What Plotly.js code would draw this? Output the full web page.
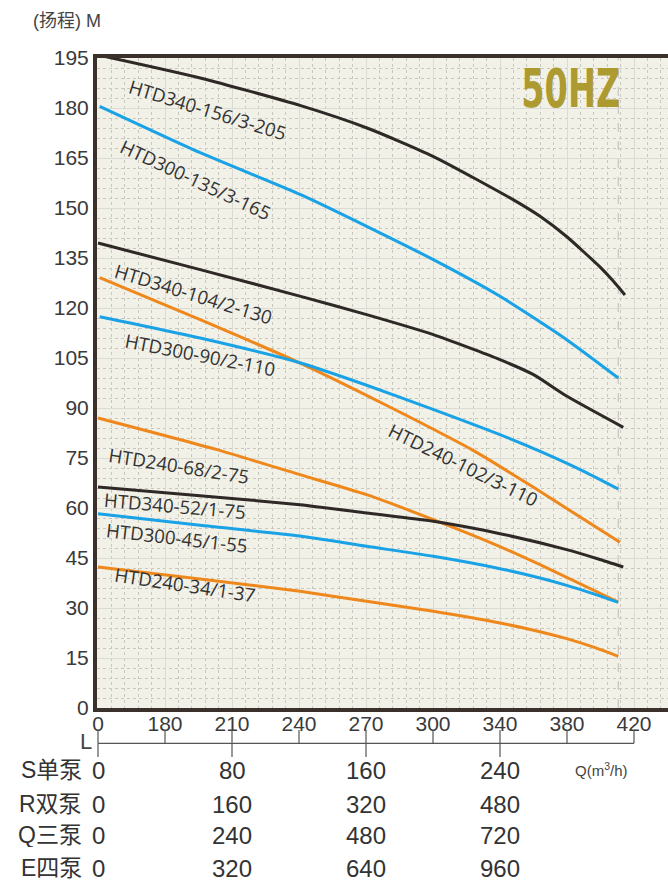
<!DOCTYPE html>
<html><head><meta charset="utf-8">
<script src="https://cdn.plot.ly/plotly-3.0.1.min.js"></script>
<style>html,body{margin:0;padding:0;background:#fff}#chart{width:668px;height:881px}</style>
</head><body><div id="chart"></div>
<script>
// ---- data: flow on the S单泵 scale (m3/h) and head (m) ----
const q340_156 = [1, 61, 121, 160.6, 200, 247.8, 263.9, 280.1, 290.7, 300.1, 307.2, 314.6];
const h340_156 = [195.8, 189.0, 180.7, 174.0, 165.5, 152.5, 147.5, 141.3, 136.5, 132.1, 128.3, 123.9];
const q300_135 = [1, 61, 121, 160.4, 200.2, 240, 279.8, 310.6];
const h300_135 = [180.5, 166.6, 154.0, 144.5, 134.5, 123.5, 110.5, 99.0];
const q340_104 = [0, 61, 121, 160.4, 200.2, 240, 260, 280, 313.6];
const h340_104 = [139.5, 131.5, 123.5, 118.0, 112.0, 104.5, 100.0, 93.5, 84.2];
const q240_102 = [1, 61, 121, 173, 225, 260, 311.6];
const h240_102 = [129.1, 116.5, 103.4, 90.6, 77.0, 66.2, 49.7];
const q300_90 = [1, 61, 121, 160, 200, 240, 265.7, 290, 310.6];
const h300_90 = [117.4, 111.0, 103.5, 96.9, 89.6, 82.0, 76.6, 71.0, 65.7];
const q240_68 = [0, 71, 120.6, 160.4, 200.2, 240, 263.9, 310.6];
const h240_68 = [87.0, 77.5, 70.0, 64.0, 56.5, 48.4, 43.0, 31.8];
const q340_52 = [0, 60.9, 120.6, 160.4, 200.2, 240, 279.8, 298.7, 313.6];
const h340_52 = [66.3, 63.7, 61.0, 58.5, 56.0, 52.3, 47.5, 44.7, 42.3];
const q300_45 = [0, 60.9, 120.6, 160.4, 200.2, 240, 263.9, 279.8, 295, 310.6];
const h300_45 = [58.3, 54.8, 51.6, 48.5, 45.5, 41.8, 39.0, 36.8, 34.4, 31.7];
const q240_34 = [0, 60.9, 120.6, 160.4, 200.2, 240, 263.9, 279.8, 295, 310.6];
const h240_34 = [42.3, 38.7, 35.0, 32.0, 29.0, 25.5, 22.9, 20.8, 18.4, 15.5];

const curveNames = ['HTD340-156/3-205','HTD300-135/3-165','HTD340-104/2-130','HTD240-102/3-110',
  'HTD300-90/2-110','HTD240-68/2-75','HTD340-52/1-75','HTD300-45/1-55','HTD240-34/1-37'];

const xTickVals = [0, 40, 80, 120, 160, 200, 240, 280, 320];
const xTickText = ['0','180','210','240','270','300','340','380','420'];
const yTickVals = [0,15,30,45,60,75,90,105,120,135,150,165,180,195];

const tableRows = ['S单泵','R双泵','Q三泵','E四泵'];
const flowS = [0, 80, 160, 240];
const flowR = [0, 160, 320, 480];
const flowQ = [0, 240, 480, 720];
const flowE = [0, 320, 640, 960];

// ---- styles ----
const BLACK = '#2e2826', BLUE = '#19a2e6', ORANGE = '#ef881c';
const curves = [
  [q340_156, h340_156, BLACK], [q300_135, h300_135, BLUE], [q340_104, h340_104, BLACK],
  [q240_102, h240_102, ORANGE], [q300_90, h300_90, BLUE], [q240_68, h240_68, ORANGE],
  [q340_52, h340_52, BLACK], [q300_45, h300_45, BLUE], [q240_34, h240_34, ORANGE]
];
// label placement: [x, y, angle]
const labelPlace = [
  [65.4, 179.5, 17], [58.5, 158.5, 25], [56.9, 124.5, 17], [218.1, 73.2, 26],
  [61.1, 106.2, 11], [48.5, 72.8, 9], [46, 60.75, 5], [47.3, 51.2, 6.5], [51.9, 37.0, 8.5]
];

const W = 668, H = 881, ML = 97, MT = 58;
const pX = px => (px - ML) / (W - ML);
const pY = py => (H - py) / (H - MT);

const traces = curves.map((c, i) => ({
  type: 'scatter', mode: 'lines', x: c[0], y: c[1], name: curveNames[i],
  line: {color: c[2], width: 3, shape: 'spline', smoothing: 0.6},
  hoverinfo: 'skip', showlegend: false
}));

const ann = [];
curveNames.forEach((t, i) => ann.push({
  xref: 'x', yref: 'y', x: labelPlace[i][0], y: labelPlace[i][1], text: t,
  textangle: labelPlace[i][2], showarrow: false, xanchor: 'center', yanchor: 'middle',
  font: {family: 'Open Sans', size: 18.7, color: '#333'}
}));
ann.push({xref: 'paper', yref: 'paper', x: pX(31), y: pY(21), xanchor: 'left', yanchor: 'middle',
  text: '(扬程) M', showarrow: false, font: {family: 'Liberation Sans, Noto Sans CJK SC', size: 18, color: '#444'}});
ann.push({xref: 'paper', yref: 'paper', x: pX(571), y: pY(88), xanchor: 'center', yanchor: 'middle',
  text: '50HZ', showarrow: false,
  font: {family: 'DejaVu Sans Condensed, DejaVu Sans', size: 54, weight: 'bold', color: '#ad9a30'}});
ann.push({xref: 'paper', yref: 'paper', x: pX(86), y: pY(741.5), xanchor: 'center', yanchor: 'middle',
  text: 'L', showarrow: false, font: {family: 'Liberation Sans', size: 22, color: '#444'}});
ann.push({xref: 'paper', yref: 'paper', x: pX(601), y: pY(769), xanchor: 'center', yanchor: 'middle',
  text: 'Q(m<sup>3</sup>/h)', showarrow: false, font: {family: 'Liberation Sans', size: 15, color: '#444'}});

const rowY = [770, 804, 835, 868];
const rowVals = [flowS, flowR, flowQ, flowE];
tableRows.forEach((r, i) => {
  ann.push({xref: 'paper', yref: 'paper', x: pX(84), y: pY(rowY[i]), xanchor: 'right', yanchor: 'middle',
    height: 24, valign: 'middle',
    text: r, showarrow: false, font: {family: 'Liberation Sans, Noto Sans CJK SC', size: 23, color: '#333'}});
  rowVals[i].forEach((v, j) => ann.push({xref: 'x', yref: 'paper', x: flowS[j], y: pY(rowY[i]),
    xanchor: 'center', yanchor: 'middle', height: 24, valign: 'middle', text: String(v), showarrow: false,
    font: {family: 'Liberation Sans', size: 24, color: '#333'}}));
});

const shapes = [];
const lineY = pY(743.3);
shapes.push({type: 'line', xref: 'x', yref: 'paper', x0: xTickVals[0], x1: xTickVals[xTickVals.length - 1],
  y0: lineY, y1: lineY, line: {color: '#555', width: 1.2}});
xTickVals.forEach(v => shapes.push({type: 'line', xref: 'x', yref: 'paper', x0: v, x1: v,
  y0: lineY, y1: pY(730), line: {color: '#555', width: 1.2}}));
flowS.forEach(v => shapes.push({type: 'line', xref: 'x', yref: 'paper', x0: v, x1: v,
  y0: lineY, y1: pY(757), line: {color: '#555', width: 1.2}}));
const endQ = q300_135[q300_135.length - 1];
shapes.push({type: 'line', xref: 'x', yref: 'y', x0: endQ, x1: endQ, y0: 0, y1: 195, layer: 'below',
  line: {color: '#bdbdb8', width: 1, dash: 'dash'}});

const AX = '#3a302c';
const layout = {
  width: W, height: H,
  margin: {l: ML, r: 0, t: MT, b: 0, pad: 0, autoexpand: false},
  paper_bgcolor: '#ffffff', plot_bgcolor: '#f2f1e7',
  showlegend: false, hovermode: false,
  xaxis: {
    range: [-0.6, 340.3], tickmode: 'array', tickvals: xTickVals, ticktext: xTickText,
    showline: true, linewidth: 4, linecolor: AX, mirror: true, ticks: '', zeroline: false,
    ticklabelstandoff: -6,
    showgrid: true, gridcolor: '#dbdbd5', gridwidth: 1,
    minor: {tickmode: 'linear', tick0: 0, dtick: 8, showgrid: true, gridcolor: '#c8c8c0', griddash: 'dot', gridwidth: 1},
    tickfont: {family: 'Liberation Sans', size: 21, color: '#3a3a3a'}, fixedrange: true
  },
  yaxis: {
    domain: [(H - 708) / (H - MT), 1], range: [0, 195], tickmode: 'array', tickvals: yTickVals,
    showline: true, linewidth: 4, linecolor: AX, ticks: '', zeroline: false,
    showgrid: true, gridcolor: '#dbdbd5', gridwidth: 1,
    minor: {tickmode: 'linear', tick0: 0, dtick: 3, showgrid: true, gridcolor: '#c8c8c0', griddash: 'dot', gridwidth: 1},
    tickfont: {family: 'Liberation Sans', size: 21, color: '#3a3a3a'}, fixedrange: true
  },
  annotations: ann, shapes: shapes
};

Plotly.newPlot('chart', traces, layout, {displayModeBar: false, staticPlot: true}).then(() => {
  // condense the "50HZ" badge horizontally, keeping it as real text
  document.querySelectorAll('.annotation-text').forEach(t => {
    if (t.textContent === '50HZ') {
      t.setAttribute('textLength', '99');
      t.setAttribute('lengthAdjust', 'spacingAndGlyphs');
    }
  });
});
</script></body></html>
